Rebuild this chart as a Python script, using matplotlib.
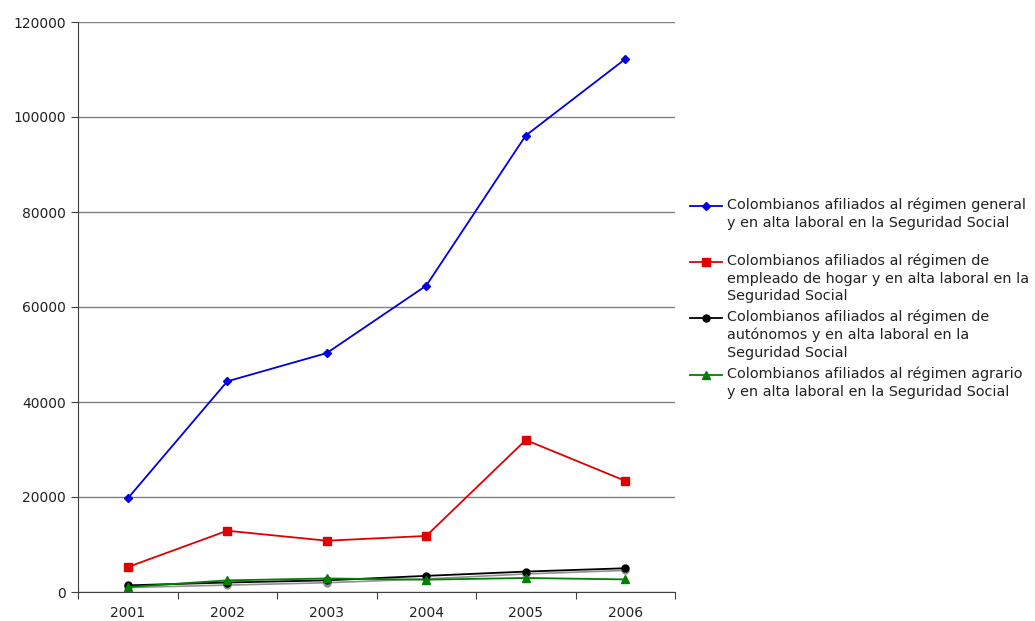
import matplotlib
matplotlib.use("Agg")
import matplotlib.pyplot as plt
from matplotlib.lines import Line2D

years = ["2001", "2002", "2003", "2004", "2005", "2006"]
general = [19700, 44350, 50300, 64500, 96100, 112200]
hogar = [5250, 12900, 10800, 11800, 32000, 23400]
autonomos = [1400, 2000, 2450, 3400, 4300, 5000]
agrario = [1050, 2450, 2850, 2600, 2950, 2650]
otros = [950, 1450, 1950, 2750, 3800, 4550]

labels = [
    "Colombianos afiliados al régimen general\ny en alta laboral en la Seguridad Social",
    "Colombianos afiliados al régimen de\nempleado de hogar y en alta laboral en la\nSeguridad Social",
    "Colombianos afiliados al régimen de\nautónomos y en alta laboral en la\nSeguridad Social",
    "Colombianos afiliados al régimen agrario\ny en alta laboral en la Seguridad Social",
]

plt.rcParams['font.family'] = ['DejaVu Sans']
W, H = 1035, 621
fig = plt.figure(figsize=(W / 100, H / 100), dpi=100)
ax = fig.add_axes([78 / W, 1 - 592 / H, (675 - 78) / W, (592 - 22) / H])

x = list(range(len(years)))
ax.plot(x, otros, color="#909090", lw=1.2, marker="o", ms=5, zorder=2)
ax.plot(x, general, color="#0000E0", lw=1.3, marker="D", ms=4.5, zorder=5)
ax.plot(x, hogar, color="#E00000", lw=1.3, marker="s", ms=6, zorder=5)
ax.plot(x, autonomos, color="black", lw=1.3, marker="o", ms=5, zorder=3)
ax.plot(x, agrario, color="#008000", lw=1.3, marker="^", ms=6, zorder=4)

ax.set_xlim(-0.5, len(years) - 0.5)
ax.set_ylim(0, 120000)
ax.set_yticks(range(0, 120001, 20000))
ax.yaxis.grid(True, color="#808080", lw=1.0)
ax.set_axisbelow(True)
ax.set_xticks([i - 0.5 for i in range(len(years) + 1)])
ax.set_xticklabels([])
ax.set_xticks(x, minor=True)
ax.set_xticklabels(years, minor=True)
ax.tick_params(axis="x", which="major", length=5, direction="out", color="#404040")
ax.tick_params(axis="x", which="minor", length=0, pad=10, labelsize=10, labelcolor="#222222")
ax.tick_params(axis="y", length=5, direction="out", labelsize=10, labelcolor="#222222", color="#404040")
for s in ["top", "right"]:
    ax.spines[s].set_visible(False)
for s in ["left", "bottom"]:
    ax.spines[s].set_color("#404040")

# legend (drawn manually so handles align with first text line)
styles = [("#0000E0", "D", 4.5), ("#E00000", "s", 6), ("black", "o", 5), ("#008000", "^", 6)]
ys = [206, 262, 318, 375]
for (c, m, ms), y, lab in zip(styles, ys, labels):
    yf = 1 - y / H
    fig.add_artist(Line2D([690 / W, 722 / W], [yf, yf], color=c, lw=1.3, transform=fig.transFigure))
    fig.add_artist(Line2D([706 / W], [yf], color=c, marker=m, ms=ms, transform=fig.transFigure))
    fig.text(727 / W, 1 - (y - 8.5) / H, lab, ha="left", va="top", fontsize=10.4, color="#222222",
             linespacing=1.32, transform=fig.transFigure)

fig.savefig("out.png", dpi=100)
